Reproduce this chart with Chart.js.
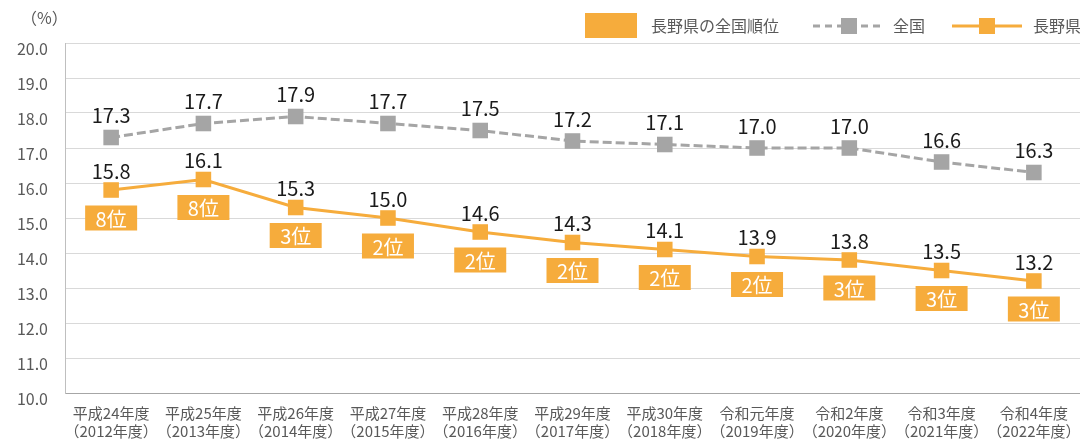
<!DOCTYPE html>
<html><head><meta charset="utf-8">
<script src="https://cdn.jsdelivr.net/npm/chart.js@4"></script>
<style>html,body{margin:0;padding:0;background:#fff;overflow:hidden}#wrap{width:1080px;height:448px;position:relative}</style>
</head><body><div id="wrap"><canvas id="c" width="1080" height="448"></canvas></div>
<script>
const categoryEra = ['平成24年度','平成25年度','平成26年度','平成27年度','平成28年度','平成29年度','平成30年度','令和元年度','令和2年度','令和3年度','令和4年度'];
const categoryYear = ['（2012年度）','（2013年度）','（2014年度）','（2015年度）','（2016年度）','（2017年度）','（2018年度）','（2019年度）','（2020年度）','（2021年度）','（2022年度）'];
const nationalValues = [17.3,17.7,17.9,17.7,17.5,17.2,17.1,17.0,17.0,16.6,16.3];
const naganoValues = [15.8,16.1,15.3,15.0,14.6,14.3,14.1,13.9,13.8,13.5,13.2];
const naganoRank = [8,8,3,2,2,2,2,2,3,3,3];
const seriesNames = ['全国','長野県','長野県の全国順位'];
const yMin = 10, yMax = 20, yStep = 1;
const unitLabel = '（%）';

const FONT = "'Noto Sans CJK JP','Noto Sans',sans-serif";
const ORANGE = '#F6AC3C';
const GRAY = '#A5A5A5';
const TEXT = '#595959';

const labelsPlugin = {
  id: 'labelsPlugin',
  afterDatasetsDraw(chart) {
    const ctx = chart.ctx;
    ctx.save();
    ctx.textAlign = 'center';
    ctx.textBaseline = 'middle';
    [0,1].forEach(di => {
      const meta = chart.getDatasetMeta(di);
      const data = chart.data.datasets[di].data;
      ctx.font = '20px ' + FONT;
      ctx.fillStyle = '#1a1a1a';
      meta.data.forEach((pt, i) => {
        ctx.fillText(data[i].toFixed(1), pt.x, pt.y - (di === 0 ? 22 : 19));
      });
    });
    const meta = chart.getDatasetMeta(1);
    meta.data.forEach((pt, i) => {
      const cy = pt.y + 28;
      ctx.fillStyle = ORANGE;
      ctx.fillRect(pt.x - 26, cy - 12.5, 52, 25);
      ctx.fillStyle = '#ffffff';
      ctx.font = '20px ' + FONT;
      ctx.fillText(naganoRank[i] + '位', pt.x, cy + 1);
    });
    ctx.restore();
  },
  afterDraw(chart) {
    const ctx = chart.ctx;
    ctx.save();
    ctx.textBaseline = 'middle';
    ctx.textAlign = 'left';
    ctx.fillStyle = TEXT;
    ctx.font = '16px ' + FONT;
    ctx.fillText(unitLabel, 21, 18);
    const ly = 26;
    ctx.fillStyle = ORANGE;
    ctx.fillRect(585, 13, 52, 25);
    ctx.fillStyle = TEXT;
    ctx.fillText(seriesNames[2], 651, ly);
    ctx.strokeStyle = GRAY; ctx.lineWidth = 3; ctx.setLineDash([7,5]);
    ctx.beginPath(); ctx.moveTo(813, ly); ctx.lineTo(883, ly); ctx.stroke();
    ctx.setLineDash([]);
    ctx.fillStyle = GRAY; ctx.fillRect(841, ly - 8, 16, 16);
    ctx.fillStyle = TEXT;
    ctx.fillText(seriesNames[0], 893, ly);
    ctx.strokeStyle = ORANGE;
    ctx.beginPath(); ctx.moveTo(952, ly); ctx.lineTo(1022, ly); ctx.stroke();
    ctx.fillStyle = ORANGE; ctx.fillRect(979, ly - 8, 16, 16);
    ctx.fillStyle = TEXT;
    ctx.fillText(seriesNames[1], 1033, ly);
    ctx.restore();
  }
};

new Chart(document.getElementById('c'), {
  type: 'line',
  data: {
    labels: categoryEra.map((e, i) => [e, categoryYear[i]]),
    datasets: [
      { label: seriesNames[0], data: nationalValues, borderColor: GRAY, backgroundColor: GRAY,
        borderWidth: 3, borderDash: [9,4], pointStyle: 'rect', pointRadius: 11, pointHoverRadius: 11,
        pointBorderWidth: 0, tension: 0 },
      { label: seriesNames[1], data: naganoValues, borderColor: ORANGE, backgroundColor: ORANGE,
        borderWidth: 3, pointStyle: 'rect', pointRadius: 11, pointHoverRadius: 11,
        pointBorderWidth: 0, tension: 0 }
    ]
  },
  options: {
    responsive: false,
    animation: false,
    events: [],
    layout: { autoPadding: false, padding: { top: 43, left: 0, right: 0, bottom: 0 } },
    plugins: { legend: { display: false }, tooltip: { enabled: false } },
    scales: {
      x: {
        offset: true,
        grid: { display: false, drawTicks: true, tickLength: 11 },
        border: { display: true, color: '#A6A6A6', width: 1 },
        ticks: { font: { family: FONT, size: 15 }, color: TEXT, maxRotation: 0, autoSkip: false, padding: 0 },
        afterFit(s) { s.height = 55; s.paddingLeft = 0; s.paddingRight = 0; }
      },
      y: {
        min: yMin, max: yMax,
        grid: { color: '#D9D9D9', drawTicks: false },
        border: { display: true, color: '#BFBFBF', width: 1 },
        ticks: { stepSize: yStep, font: { family: FONT, size: 16 }, color: TEXT, padding: 17, labelOffset: 6,
          callback: v => Number(v).toFixed(1) },
        afterFit(s) { s.width = 65; s.paddingTop = 0; s.paddingBottom = 0; }
      }
    }
  },
  plugins: [labelsPlugin]
});
</script>
</body></html>
